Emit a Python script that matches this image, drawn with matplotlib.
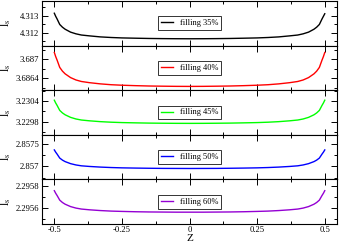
import matplotlib
matplotlib.use('Agg')
import matplotlib.pyplot as plt
from matplotlib.ticker import MultipleLocator

plt.rcParams['font.family'] = ['Liberation Serif', 'DejaVu Serif']
plt.rcParams['mathtext.fontset'] = 'stix'

z = [-0.5, -0.495, -0.49, -0.48, -0.47, -0.46, -0.44, -0.42, -0.40, -0.37, -0.33, -0.29,
     -0.25, -0.2, -0.15, -0.1, -0.05, 0.0, 0.05, 0.1, 0.15, 0.2, 0.25, 0.29, 0.33, 0.37,
     0.40, 0.42, 0.44, 0.46, 0.47, 0.48, 0.49, 0.495, 0.5]

ls_35 = [4.31315, 4.31297, 4.31282, 4.31249, 4.31233, 4.31221, 4.31204, 4.31194, 4.31187,
         4.31182, 4.31176, 4.311725, 4.3117, 4.311683, 4.311668, 4.311659, 4.311653, 4.31165,
         4.311653, 4.311659, 4.311668, 4.311683, 4.3117, 4.311725, 4.31176, 4.31182, 4.31187,
         4.31194, 4.31204, 4.31221, 4.31233, 4.31249, 4.31282, 4.31297, 4.31312]
ls_40 = [3.68722, 3.68709, 3.686982, 3.686745, 3.686626, 3.68654, 3.686421, 3.686345, 3.686297,
         3.686259, 3.686221, 3.686194, 3.686178, 3.686164, 3.686153, 3.686147, 3.686142, 3.68614,
         3.686142, 3.686147, 3.686153, 3.686164, 3.686178, 3.686194, 3.686221, 3.686259, 3.686297,
         3.686345, 3.686421, 3.68654, 3.686626, 3.686745, 3.686982, 3.68709, 3.68722]
ls_45 = [3.23042, 3.23034, 3.230273, 3.230125, 3.230052, 3.229998, 3.229924, 3.229877, 3.229847,
         3.229824, 3.2298, 3.229784, 3.229773, 3.229765, 3.229758, 3.229754, 3.229751, 3.22975,
         3.229751, 3.229754, 3.229758, 3.229765, 3.229773, 3.229784, 3.2298, 3.229824, 3.229847,
         3.229877, 3.229924, 3.229998, 3.230052, 3.230125, 3.230273, 3.23034, 3.23042]
ls_50 = [2.85736, 2.857311, 2.85727, 2.85718, 2.857135, 2.857102, 2.857057, 2.857028, 2.857009,
         2.856995, 2.856981, 2.856971, 2.856964, 2.856959, 2.856955, 2.856952, 2.856951, 2.85695,
         2.856951, 2.856952, 2.856955, 2.856959, 2.856964, 2.856971, 2.856981, 2.856995, 2.857009,
         2.857028, 2.857057, 2.857102, 2.857135, 2.85718, 2.85727, 2.857311, 2.85736]
ls_60 = [2.29576, 2.295736, 2.295716, 2.295672, 2.29565, 2.295634, 2.295612, 2.295598, 2.295589,
         2.295582, 2.295575, 2.29557, 2.295567, 2.295564, 2.295562, 2.295561, 2.29556, 2.29556,
         2.29556, 2.295561, 2.295562, 2.295564, 2.295567, 2.29557, 2.295575, 2.295582, 2.295589,
         2.295598, 2.295612, 2.295634, 2.29565, 2.295672, 2.295716, 2.295736, 2.29576]

series = [ls_35, ls_40, ls_45, ls_50, ls_60]
labels = ['filling 35%', 'filling 40%', 'filling 45%', 'filling 50%', 'filling 60%']
colors = ['#000000', '#ff0000', '#00ff00', '#0000ff', '#9400d3']
ylims = [(4.31125, 4.31387), (3.68602, 3.68744), (3.22942, 3.23071),
         (2.856709, 2.857695), (2.29545, 2.295865)]
yticks = [[4.312, 4.313], [3.6864, 3.687], [3.2298, 3.2304], [2.857, 2.8575], [2.2956, 2.2958]]
yticklabels = [['4.312', '4.313'], ['3.6864', '3.687'], ['3.2298', '3.2304'],
               ['2.857', '2.8575'], ['2.2956', '2.2958']]
yminor = [0.0005, 0.0003, 0.0003, 0.00025, 0.0001]
xticks = [-0.5, -0.25, 0, 0.25, 0.5]
xticklabels = ['-0.5', '-0.25', '0', '0.25', '0.5']

fig, axes = plt.subplots(5, 1, figsize=(3.4, 2.44), dpi=100, sharex=True)
fig.subplots_adjust(left=0.124, right=0.991, top=0.996, bottom=0.082, hspace=0)

for i, ax in enumerate(axes):
    ax.plot(z, series[i], color=colors[i], lw=1.0, label=labels[i])
    ax.set_xlim(-0.545, 0.545)
    ax.set_ylim(*ylims[i])
    ax.set_yticks(yticks[i], yticklabels[i])
    ax.yaxis.set_minor_locator(MultipleLocator(yminor[i]))
    ax.xaxis.set_minor_locator(MultipleLocator(0.125))
    ax.tick_params(which='both', direction='in', top=True, right=True, labelsize=6.2,
                   width=0.7, pad=2)
    ax.tick_params(which='major', length=4)
    ax.tick_params(which='minor', length=2)
    for sp in ax.spines.values():
        sp.set_linewidth(0.8)
    ax.set_ylabel('l$_\\mathrm{s}$', fontsize=8.5)
    # label's right edge sits around x=12 px
    ax.yaxis.set_label_coords(-0.098, 0.5)
    leg = ax.legend(loc='center', bbox_to_anchor=(0.5, 0.5), fontsize=6, frameon=True,
                    fancybox=False, handlelength=1.5, handletextpad=0.8,
                    borderpad=0.35, borderaxespad=0)
    leg.get_frame().set_edgecolor('black')
    leg.get_frame().set_linewidth(0.7)

axes[-1].set_xticks(xticks, xticklabels)
axes[-1].tick_params(axis='x', pad=1.5)
axes[-1].set_xlabel('Z', fontsize=8, va='top')
axes[-1].xaxis.set_label_coords(0.5, -0.215)

fig.savefig('out.png', dpi=100, facecolor='white')
